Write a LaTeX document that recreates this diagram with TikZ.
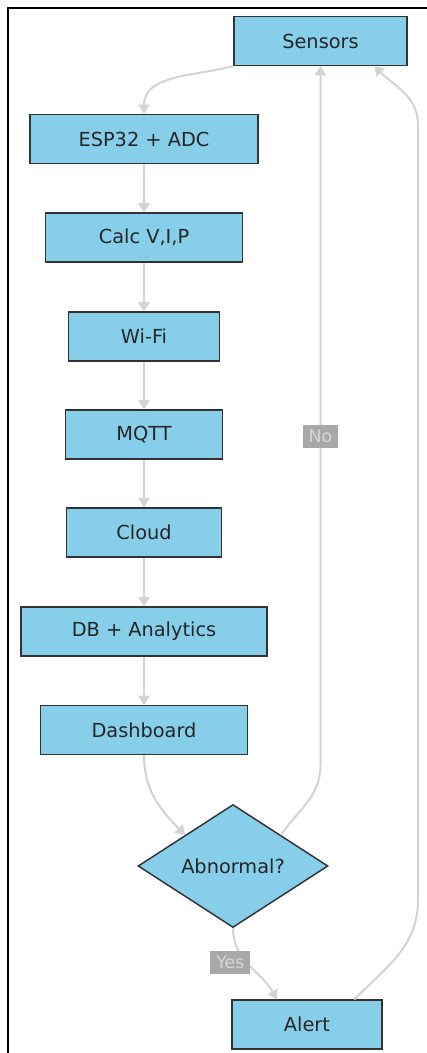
\documentclass[tikz,border=0pt]{standalone}
\usepackage{fontspec}
\setmainfont{DejaVu Sans}
\usetikzlibrary{arrows.meta,shapes.geometric}

\definecolor{boxfill}{RGB}{135,206,235}
\definecolor{boxline}{RGB}{51,51,51}
\definecolor{flowgray}{RGB}{211,211,211}
\definecolor{lblfill}{RGB}{168,168,168}
\definecolor{lbltext}{RGB}{214,214,214}

\tikzset{
  box/.style={draw=boxline,fill=boxfill,line width=1.1pt,minimum height=36.5pt,
    inner sep=0pt,font=\fontsize{14.5}{17}\selectfont,text=black!85},
  decide/.style={diamond,draw=boxline,fill=boxfill,line width=1.1pt,inner sep=0pt,
    minimum width=142.5pt,minimum height=92.25pt,font=\fontsize{14.5}{17}\selectfont,text=black!85},
  flow/.style={draw=flowgray,line width=1.5pt,-{Triangle[length=7pt,width=8.5pt]}},
  lbl/.style={fill=lblfill,text=lbltext,font=\fontsize{13}{15}\selectfont,
    inner xsep=4.5pt,inner ysep=0pt,minimum height=17pt}
}

\begin{document}
\begin{tikzpicture}[x=0.75pt,y=0.75pt]
  \useasboundingbox (0,0) rectangle (427,-1053);
  % frame
  \draw[line width=1.5pt] (8,-1053) -- (8,-8) -- (427,-8);

  % steps
  \node[box,minimum width=129.75pt] (sensors) at (320.5,-41)  {Sensors};
  \node[box,minimum width=171pt]    (esp)     at (144,-139)   {ESP32 + ADC};
  \node[box,minimum width=147.75pt] (calc)    at (144,-237.5) {Calc V,I,P};
  \node[box,minimum width=113.25pt] (wifi)    at (144,-336.5) {Wi-Fi};
  \node[box,minimum width=117.75pt] (mqtt)    at (144,-434.5) {MQTT};
  \node[box,minimum width=116.25pt] (cloud)   at (144,-532.5) {Cloud};
  \node[box,minimum width=184.5pt]  (db)      at (144,-631.5) {DB + Analytics};
  \node[box,minimum width=155.25pt] (dash)    at (144,-730)   {Dashboard};
  \node[decide]                     (abn)     at (233,-866)   {Abnormal?};
  \node[box,minimum width=112.5pt]  (alert)   at (307,-1024.5) {Alert};

  % bends
  \coordinate (nolow)  at (320.5,-765);
  \coordinate (altlow) at (418,-900);
  \coordinate (althigh) at (418,-125);

  % connectors
  \draw[flow] (sensors.south west) to[out=195,in=90] (esp.north);
  \draw[flow] (esp) -- (calc);
  \draw[flow] (calc) -- (wifi);
  \draw[flow] (wifi) -- (mqtt);
  \draw[flow] (mqtt) -- (cloud);
  \draw[flow] (cloud) -- (db);
  \draw[flow] (db) -- (dash);
  \draw[flow] (dash.south) to[out=-90,in=135] (abn.north west);
  \draw[flow] (abn.north east) to[out=55,in=-90] (nolow)
    -- node[lbl,pos=0.47] {No} (sensors.south);
  \draw[flow] (abn.south) to[out=-90,in=120]
    node[lbl,pos=0.45,xshift=-12pt] {Yes} (alert.140);
  \draw[flow] (alert.28) to[out=45,in=-90] (altlow) -- (althigh)
    to[out=90,in=-45] (sensors.-25);
\end{tikzpicture}
\end{document}
